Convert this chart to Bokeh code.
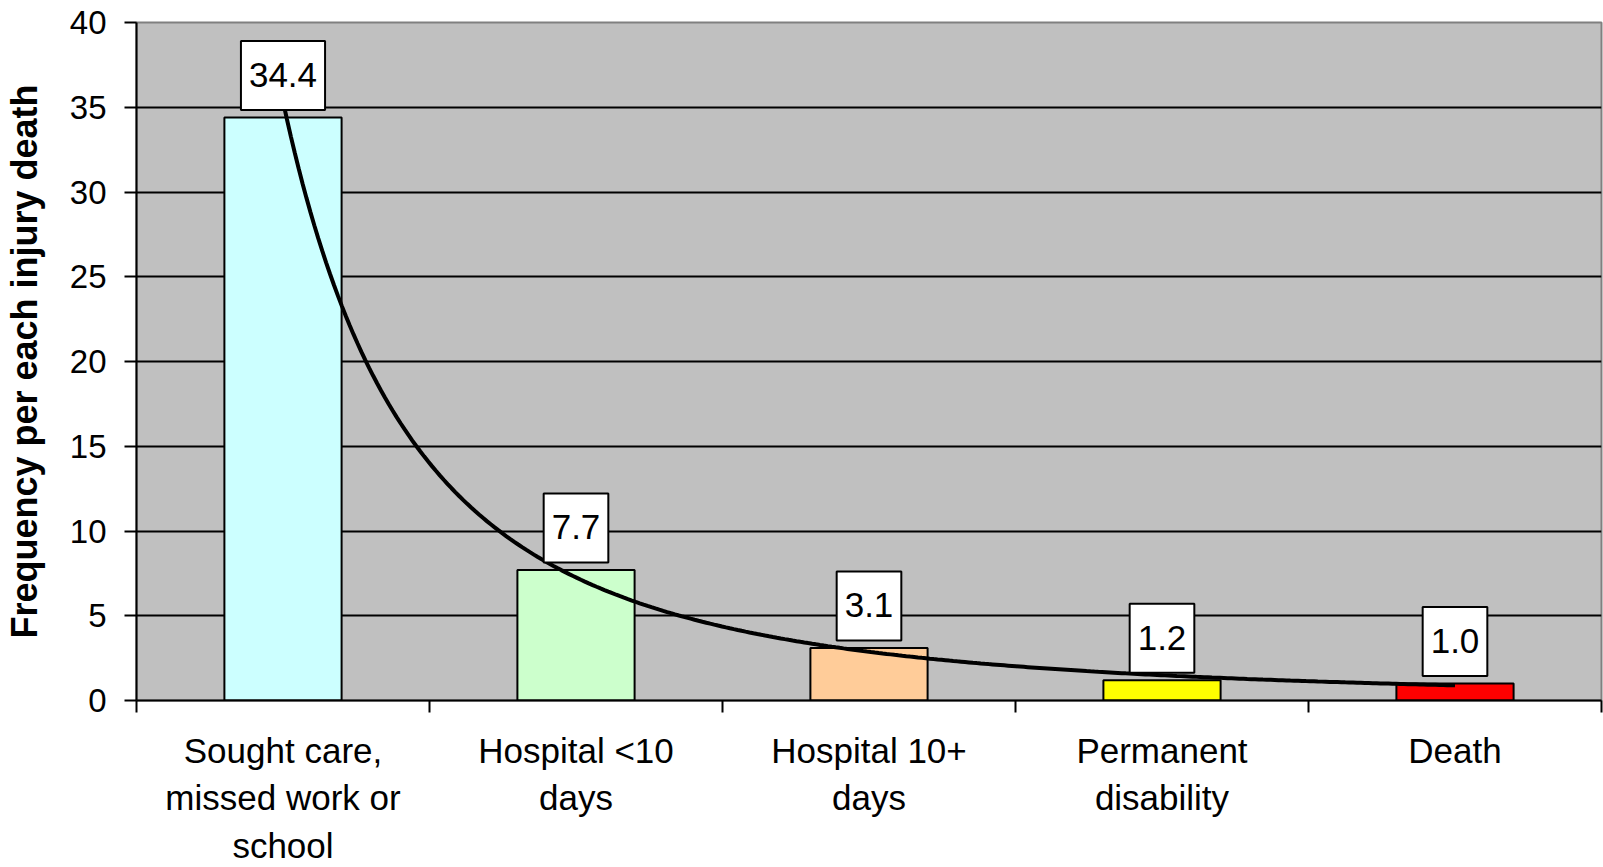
import numpy as np
from bokeh.plotting import figure
from bokeh.models import Range1d, FixedTicker, ColumnDataSource
from bokeh.embed import file_html
from bokeh.resources import INLINE
from bokeh.core.properties import value

# ---- data ----
categories = [
    "Sought care,\nmissed work or\nschool",
    "Hospital <10\ndays",
    "Hospital 10+\ndays",
    "Permanent\ndisability",
    "Death",
]
values = [34.4, 7.7, 3.1, 1.2, 1.0]
bar_colors = ["#CCFFFF", "#CCFFCC", "#FFCC99", "#FFFF00", "#FF0000"]
y_ticks = [0, 5, 10, 15, 20, 25, 30, 35, 40]
y_title = "Frequency per each injury death"

FONT = "Liberation Sans"

xs = list(range(1, len(categories) + 1))
labels = ["%.1f" % v for v in values]

# power trendline (least squares on log-log), like a spreadsheet "power" trendline
b, ln_a = np.polyfit(np.log(xs), np.log(values), 1)
tx = np.linspace(xs[0], xs[-1], 300)
ty = np.exp(ln_a) * tx ** b

src = ColumnDataSource(dict(x=xs, top=values, color=bar_colors, label=labels))

p = figure(
    width=1603, height=867,
    x_range=Range1d(0.5, len(categories) + 0.5),
    y_range=Range1d(y_ticks[0], y_ticks[-1]),
    output_backend="svg", toolbar_location=None,
    min_border_left=134, min_border_right=2, min_border_top=22, min_border_bottom=160,
)
p.background_fill_color = "#C0C0C0"
p.border_fill_color = "white"
p.outline_line_color = "#808080"
p.outline_line_width = 2

# grid
p.xgrid.visible = False
p.ygrid.ticker = FixedTicker(ticks=y_ticks)
p.ygrid.grid_line_color = "black"
p.ygrid.grid_line_width = 2

# bars
p.vbar(x="x", top="top", width=0.40, source=src, fill_color="color",
       line_color="black", line_width=2)

# trendline
p.line(tx, ty, line_color="black", line_width=4)

# value labels in white boxes
p.text(x="x", y="top", text="label", source=src,
       text_font=value(FONT), text_font_size="35px", text_color="black",
       text_align="center", text_baseline="middle", y_offset=-42,
       background_fill_color="white", border_line_color="black", border_line_width=2,
       padding=dict(left=8, right=8, top=22, bottom=23))

# x axis
xa = p.xaxis[0]
xa.ticker = FixedTicker(ticks=xs, minor_ticks=[x - 0.5 for x in xs] + [xs[-1] + 0.5])
xa.major_label_overrides = {x: c for x, c in zip(xs, categories)}
xa.major_tick_out = 0
xa.major_tick_in = 0
xa.minor_tick_out = 12
xa.minor_tick_in = 0
xa.minor_tick_line_color = "black"
xa.minor_tick_line_width = 2
xa.axis_line_color = "black"
xa.axis_line_width = 2
xa.major_label_standoff = 18
xa.major_label_text_font = FONT
xa.major_label_text_font_size = "35px"
xa.major_label_text_color = "black"
xa.major_label_text_line_height = 1.22
xa.major_label_orientation = "horizontal"

# y axis
ya = p.yaxis[0]
ya.ticker = FixedTicker(ticks=y_ticks)
ya.major_tick_out = 12
ya.major_tick_in = 0
ya.minor_tick_line_color = None
ya.major_tick_line_color = "black"
ya.major_tick_line_width = 2
ya.axis_line_color = "black"
ya.axis_line_width = 2
ya.major_label_standoff = 18
ya.major_label_text_font = FONT
ya.major_label_text_font_size = "33px"
ya.major_label_text_color = "black"
ya.axis_label = y_title
ya.axis_label_text_font = FONT
ya.axis_label_text_font_size = "36px"
ya.axis_label_text_font_style = "bold"
ya.axis_label_text_color = "black"
ya.axis_label_standoff = 22

open("out.html", "w").write(file_html(p, INLINE))
